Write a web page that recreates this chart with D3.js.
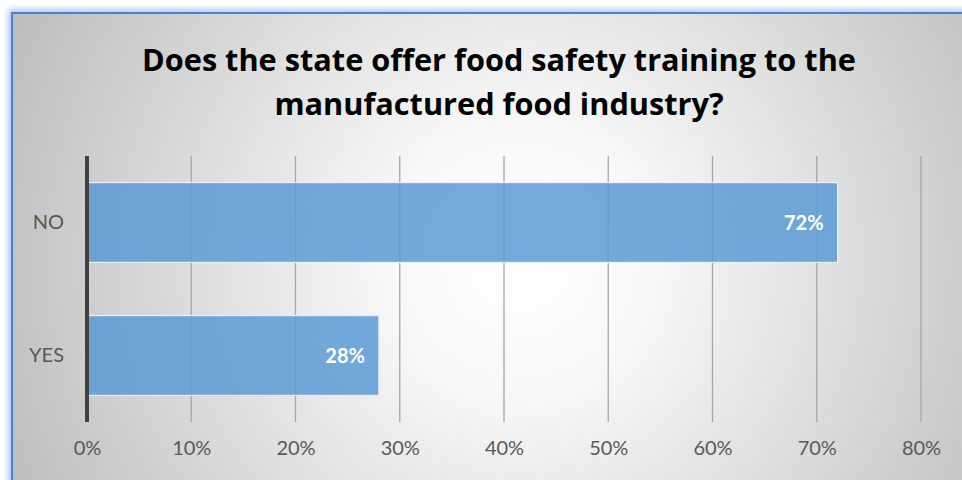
<!DOCTYPE html>
<html><head><meta charset="utf-8">
<script src="https://cdn.jsdelivr.net/npm/d3@7/dist/d3.min.js"></script>
<style>html,body{margin:0;padding:0;background:#fff;overflow:hidden}</style>
</head><body><svg id="c" width="962" height="480"></svg>
<script>
const categories = ["NO", "YES"];
const values = [0.72, 0.28];
const labels = ["72%", "28%"];
const tickValues = [0, 0.1, 0.2, 0.3, 0.4, 0.5, 0.6, 0.7, 0.8];
const titleLines = ["Does the state offer food safety training to the", "manufactured food industry?"];

const svg = d3.select("#c");
const W = 962, H = 480;
const font = "Lato, 'Open Sans', sans-serif";
const defs = svg.append("defs");
const rg = defs.append("radialGradient").attr("id","bg").attr("gradientUnits","userSpaceOnUse")
  .attr("cx",520).attr("cy",260).attr("r",560);
rg.append("stop").attr("offset","0").attr("stop-color","#ffffff");
rg.append("stop").attr("offset","0.25").attr("stop-color","#f7f7f7");
rg.append("stop").attr("offset","1").attr("stop-color","#bdbdbd");
const glow = defs.append("filter").attr("id","glow").attr("x","-5%").attr("y","-5%").attr("width","110%").attr("height","110%");
glow.append("feGaussianBlur").attr("stdDeviation",3);

svg.append("rect").attr("width",W).attr("height",H).attr("fill","#fff");
svg.append("rect").attr("x",11.5).attr("y",12.5).attr("width",1000).attr("height",600)
  .attr("fill","none").attr("stroke","#9dbcf0").attr("stroke-width",6).attr("filter","url(#glow)");
svg.append("rect").attr("x",12).attr("y",13).attr("width",1000).attr("height",600).attr("fill","url(#bg)");
svg.append("rect").attr("x",12).attr("y",13).attr("width",1000).attr("height",600)
  .attr("fill","none").attr("stroke","#4a7fd6").attr("stroke-width",2);

const x = d3.scaleLinear().domain([0,0.8]).range([87,921]);
const y = d3.scaleBand().domain(categories).range([156,422]).paddingInner(0.4).paddingOuter(0.2);

svg.append("g").selectAll("line").data(tickValues.slice(1)).join("line")
  .attr("x1",d=>x(d)).attr("x2",d=>x(d)).attr("y1",156).attr("y2",422)
  .attr("stroke","#a6a6a6").attr("stroke-width",1.3);

svg.append("g").selectAll("rect").data(values).join("rect")
  .attr("x",x(0)).attr("y",(d,i)=>y(categories[i]))
  .attr("width",d=>x(d)-x(0)).attr("height",y.bandwidth())
  .attr("fill","#5b9bd5").attr("fill-opacity",0.85)
  .attr("stroke","#e8eef7").attr("stroke-width",1.2);

svg.append("g").selectAll("text").data(values).join("text")
  .attr("x",d=>x(d)-14).attr("y",(d,i)=>y(categories[i])+y.bandwidth()/2)
  .attr("dy","0.36em").attr("text-anchor","end")
  .attr("font-family",font).attr("font-weight","bold").attr("font-size",20)
  .attr("fill","#ffffff").text((d,i)=>labels[i]);

svg.append("line").attr("x1",x(0)).attr("x2",x(0)).attr("y1",156).attr("y2",422)
  .attr("stroke","#404040").attr("stroke-width",4);

const xAxis = svg.append("g").attr("transform","translate(0,422)")
  .call(d3.axisBottom(x).tickValues(tickValues).tickFormat(d3.format(".0%")).tickSize(0).tickPadding(19));
xAxis.select(".domain").remove();
xAxis.selectAll("text").attr("font-family",font).attr("font-size",20).attr("fill","#595959").attr("dy","0.72em");

const yAxis = svg.append("g").attr("transform","translate(87,0)")
  .call(d3.axisLeft(y).tickSize(0).tickPadding(23));
yAxis.select(".domain").remove();
yAxis.selectAll("text").attr("font-family",font).attr("font-size",20).attr("fill","#595959");

const t = svg.append("g").selectAll("text").data(titleLines).join("text")
  .attr("x",499).attr("y",(d,i)=>71+i*44).attr("text-anchor","middle")
  .attr("font-family","'Open Sans', Lato, sans-serif").attr("font-weight","bold").attr("font-size",30).attr("fill","#000")
  .text(d=>d);
const w0 = t.nodes()[0].getComputedTextLength();
if (w0 > 0) t.attr("font-size", 30 * 714 / w0);
</script></body></html>
